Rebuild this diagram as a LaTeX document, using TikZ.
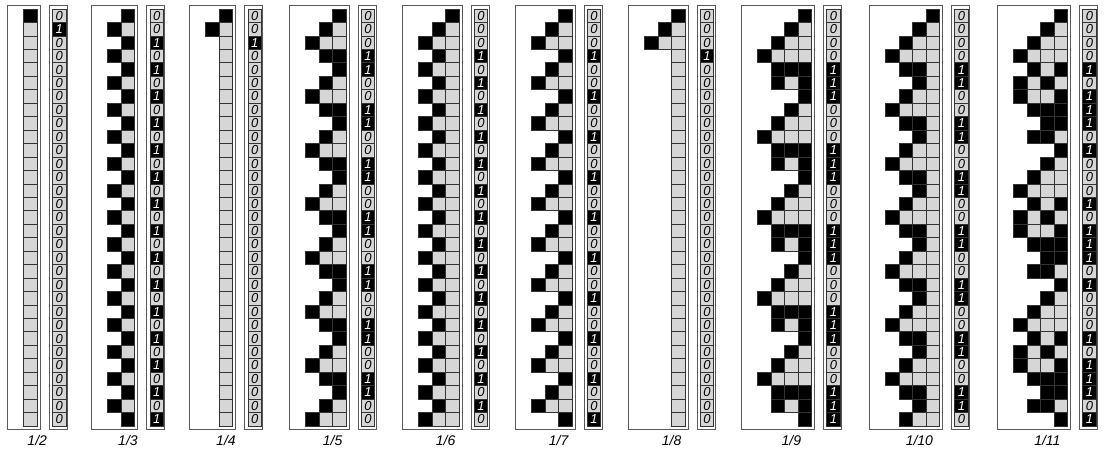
\documentclass[tikz,border=0pt]{standalone}
\usepackage{fontspec}
\setmainfont{Liberation Sans}
\definecolor{cellgray}{gray}{0.84}
\definecolor{framegray}{gray}{0.35}

\begin{document}
\begin{tikzpicture}[x=1pt,y=-1pt,
    panel/.style={draw=framegray,line width=1pt,fill=white},
    cell/.style={draw=black!80,line width=0.7pt},
    digitbox/.style={draw=black!80,line width=0.7pt,inner sep=0pt,
      minimum width=13.45pt,minimum height=13.45pt,
      font=\fontsize{13}{13}\selectfont\itshape},
    fraclabel/.style={font=\fontsize{14}{16}\selectfont\itshape}]
    \useasboundingbox (0,0) rectangle (1108,451);
    \def\s{13.45}

    % one column of remainders and one of digits for each 1/n
    \foreach \n/\x/\k in {2/7/1,3/91/2,4/189/2,5/289/3,6/402/3,7/515/3,8/628/3,9/741/4,10/869/4,11/997/4}{
        \pgfmathsetmacro\w{20+\k*\s}
        \pgfmathsetmacro\dx{\x+\w+9}
        \pgfmathtruncatemacro\kk{\k-1}
        \draw[panel] (\x,5) rectangle ++(\w,424);
        \draw[panel] (\dx,5) rectangle ++(18,424);
        \node[fraclabel] (lbl\n) at ({(\x+\dx+18)/2},440) {1/\n};

        \xdef\rem{1}\xdef\dig{0}
        \foreach \i in {0,...,30}{
            \pgfmathsetmacro\yy{9+\i*\s}
            % bits of the remainder
            \foreach \j in {0,...,\kk}{
                \pgfmathtruncatemacro\p{2^\j}
                \pgfmathtruncatemacro\bit{mod(floor(\rem/\p),2)}
                \pgfmathtruncatemacro\vis{(\j==0 || \p<=\rem) ? 1 : 0}
                \ifnum\vis=1
                    \ifnum\bit=1 \def\fc{black}\else\def\fc{cellgray}\fi
                    \draw[cell,fill=\fc] (\x+16.5+\kk*\s-\j*\s,\yy) rectangle ++(\s,\s);
                \fi
            }
            % digit
            \ifnum\dig=1 \def\fc{black}\def\tc{white}\else\def\fc{cellgray}\def\tc{black}\fi
            \node[digitbox,fill=\fc,text=\tc] (d\n-\i) at (\dx+3+\s/2,\yy+\s/2) {\dig};
            % next step of the division
            \pgfmathtruncatemacro\dbl{2*\rem}
            \pgfmathtruncatemacro\nd{\dbl>=\n ? 1 : 0}
            \pgfmathtruncatemacro\nr{\dbl-\nd*\n}
            \xdef\rem{\nr}\xdef\dig{\nd}
        }
    }

\end{tikzpicture}
\end{document}
